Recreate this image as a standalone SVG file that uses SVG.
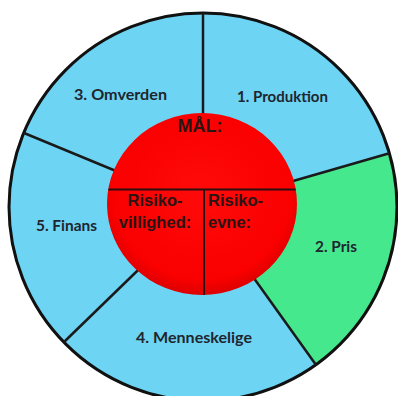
<svg xmlns="http://www.w3.org/2000/svg" width="398" height="396" viewBox="0 0 398 396">
  <defs>
    <radialGradient id="red" cx="0.5" cy="0.45" r="0.55">
      <stop offset="0" stop-color="#ff0a0a"/>
      <stop offset="0.85" stop-color="#fa0000"/>
      <stop offset="1" stop-color="#dd0000"/>
    </radialGradient>
    <clipPath id="inner"><ellipse cx="202" cy="204" rx="95" ry="91"/></clipPath>
  </defs>
  <style>
    .seg { font-family: Lato, "Open Sans", sans-serif; font-weight: bold; font-size: 15px; fill: #1e262e; text-anchor: middle; }
    .red { font-family: "Liberation Sans", Arial, sans-serif; font-weight: bold; fill: #2a1414; }
    .div { stroke: #1a1a1a; stroke-width: 2.5; fill: none; }
  </style>
  <rect width="398" height="396" fill="#ffffff"/>
  <g id="ring">
    <circle cx="203" cy="207" r="194" fill="#6ed4f4"/>
    <path id="pris-sector" d="M203 207 L389.4 153.2 A194 194 0 0 1 315.9 364.8 Z" fill="#46e88e"/>
    <circle cx="203" cy="207" r="194" fill="none" stroke="#111" stroke-width="3"/>
  </g>
  <g id="connectors">
    <line class="div" x1="203" y1="207" x2="203" y2="13"/>
    <line class="div" x1="203" y1="207" x2="24" y2="133"/>
    <line class="div" x1="203" y1="207" x2="389.4" y2="153.2" stroke-width="4"/>
    <line class="div" x1="203" y1="207" x2="315.9" y2="364.8"/>
    <line class="div" x1="203" y1="207" x2="64" y2="342"/>
  </g>
  <g id="node-produktion"><text class="seg" x="282.5" y="102" textLength="91" lengthAdjust="spacingAndGlyphs">1. Produktion</text></g>
  <g id="node-omverden"><text class="seg" x="120.5" y="100" textLength="93" lengthAdjust="spacingAndGlyphs">3. Omverden</text></g>
  <g id="node-finans"><text class="seg" x="66.5" y="231" textLength="61" lengthAdjust="spacingAndGlyphs">5. Finans</text></g>
  <g id="node-pris"><text class="seg" x="336" y="252" textLength="42" lengthAdjust="spacingAndGlyphs">2. Pris</text></g>
  <g id="node-menneskelige"><text class="seg" x="194" y="343" textLength="116" lengthAdjust="spacingAndGlyphs">4. Menneskelige</text></g>
  <g id="node-maal">
    <ellipse cx="202" cy="204" rx="95" ry="91" fill="url(#red)"/>
    <line x1="107" y1="189.5" x2="297" y2="189.5" stroke="#2a1010" stroke-width="2" clip-path="url(#inner)"/>
    <line x1="204" y1="189.5" x2="204" y2="297" stroke="#2a1010" stroke-width="2" clip-path="url(#inner)"/>
    <text class="red" x="200" y="132" font-size="18" text-anchor="middle">MÅL:</text>
    <text class="red" font-size="16.5" text-anchor="middle"><tspan x="155" y="206">Risiko-</tspan><tspan x="155" y="228">villighed:</tspan></text>
    <text class="red" font-size="16.5"><tspan x="208" y="206">Risiko-</tspan><tspan x="208" y="228">evne:</tspan></text>
  </g>
</svg>
